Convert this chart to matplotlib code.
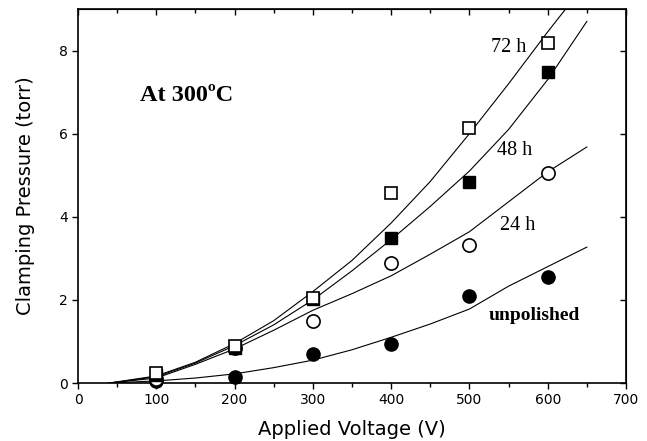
import matplotlib
matplotlib.use('Agg')
import matplotlib.pyplot as plt
from matplotlib.ticker import MultipleLocator

# measured points
volts = [100, 200, 300, 400, 500, 600]
p_unpolished = [0.05, 0.15, 0.70, 0.95, 2.10, 2.55]
p_24h = [0.10, 0.85, 1.50, 2.88, 3.33, 5.06]
p_48h = [0.20, 0.85, 2.02, 3.49, 4.84, 7.48]
p_72h = [0.25, 0.90, 2.05, 4.57, 6.13, 8.18]

# fitted curves
fit_v = [40, 100, 150, 200, 250, 300, 350, 400, 450, 500, 550, 600, 650]
fit_unpolished = [0.0, 0.05, 0.12, 0.22, 0.37, 0.55, 0.80, 1.10, 1.42, 1.78, 2.33, 2.80, 3.27]
fit_24h = [0.0, 0.12, 0.45, 0.82, 1.27, 1.75, 2.15, 2.58, 3.10, 3.64, 4.36, 5.08, 5.68]
fit_48h = [0.0, 0.15, 0.48, 0.90, 1.40, 2.00, 2.70, 3.45, 4.25, 5.10, 6.10, 7.30, 8.70]
fit_72h_v = [40, 100, 150, 200, 250, 300, 350, 400, 450, 500, 550, 600, 625]
fit_72h = [0.0, 0.17, 0.50, 0.95, 1.50, 2.20, 2.95, 3.85, 4.85, 6.00, 7.20, 8.45, 9.05]

fig = plt.figure(figsize=(6.47, 4.41), dpi=100)
ax = fig.add_axes([0.1206, 0.1315, 0.8469, 0.8481])

lw = 0.8
ax.plot(fit_v, fit_unpolished, color='k', lw=lw)
ax.plot(fit_v, fit_24h, color='k', lw=lw)
ax.plot(fit_v, fit_48h, color='k', lw=lw)
ax.plot(fit_72h_v, fit_72h, color='k', lw=lw)

ax.plot(volts, p_unpolished, 'o', color='k', ms=9.5, clip_on=False, zorder=3)
ax.plot(volts, p_24h, 'o', mfc='white', mec='k', mew=1.2, ms=9.5, clip_on=False, zorder=3)
ax.plot(volts, p_48h, 's', color='k', ms=8.5, clip_on=False, zorder=3)
ax.plot(volts, p_72h, 's', mfc='white', mec='k', mew=1.2, ms=8.5, clip_on=False, zorder=3)

ax.set_xlim(0, 700)
ax.set_ylim(0, 9)
ax.xaxis.set_major_locator(MultipleLocator(100))
ax.xaxis.set_minor_locator(MultipleLocator(50))
ax.yaxis.set_major_locator(MultipleLocator(2))
ax.tick_params(axis='both', which='both', direction='out', labelsize=10, width=1)
ax.tick_params(which='major', length=4)
ax.tick_params(which='minor', length=3)
for s in ax.spines.values():
    s.set_linewidth(1.2)

# inward ticks on top and right
top = ax.secondary_xaxis('top')
top.xaxis.set_major_locator(MultipleLocator(100))
top.xaxis.set_minor_locator(MultipleLocator(50))
top.tick_params(which='both', direction='in', labeltop=False, width=1)
top.tick_params(which='major', length=4)
top.tick_params(which='minor', length=3)
right = ax.secondary_yaxis('right')
right.yaxis.set_major_locator(MultipleLocator(2))
right.tick_params(direction='in', labelright=False, length=4, width=1)

ax.set_xlabel('Applied Voltage (V)', fontsize=14, labelpad=9)
ax.set_ylabel('Clamping Pressure (torr)', fontsize=14, labelpad=17)

serif = 'Liberation Serif'
ax.text(79, 6.92, 'At 300ºC', family=serif, weight='bold', fontsize=17.5, va='center')
ax.text(528, 8.08, '72 h', family=serif, fontsize=14.5, va='center')
ax.text(535, 5.60, '48 h', family=serif, fontsize=14.5, va='center')
ax.text(539, 3.80, '24 h', family=serif, fontsize=14.5, va='center')
ax.text(524, 1.63, 'unpolished', family=serif, weight='bold', fontsize=14, va='center')

fig.savefig('out.png', dpi=100)
